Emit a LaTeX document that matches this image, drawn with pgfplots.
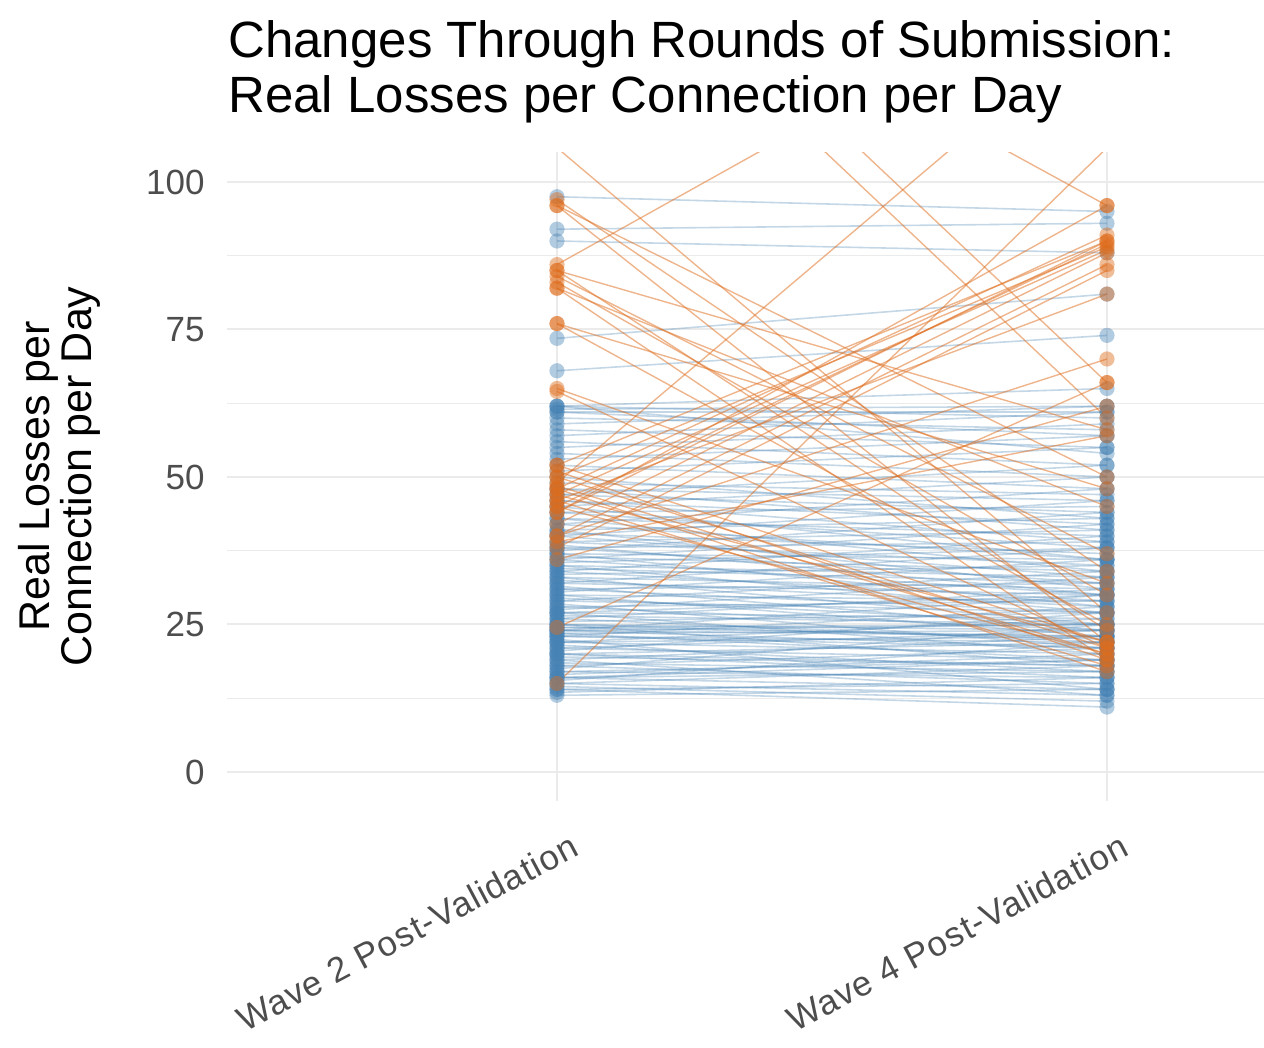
\documentclass[border=0pt]{standalone}
\usepackage{fontspec}
\setmainfont{Liberation Sans}
\newfontfamily\spacedfont[LetterSpace=3]{Liberation Sans}
\usepackage{pgfplots}
\usepackage{pgfplotstable}
\pgfplotsset{compat=1.18}
\definecolor{bluec}{RGB}{70,130,180}
\definecolor{orangec}{RGB}{222,108,28}
\definecolor{gridc}{RGB}{235,235,235}
\definecolor{tickc}{RGB}{77,77,77}

\pgfplotstableread{
w2 w4
13 14
13.5 16
14 11
14 15
15 13
15 18
15.5 22
16 17
16 14
16.5 20
17 16
17 19
17.5 25
18 15
18 21
18.5 17
19 23
19 13
19.5 18
20 16
20 22
20.5 27
21 19
21 24
21.5 17
22 20
22 26
22.5 14
23 22
23 28
23.5 19
24 21
24 25
24 30
24.5 23
25 24
25 18
25.5 27
26 22
26 31
26.5 25
27 20
27 26
27.5 33
28 24
28 29
28.5 21
29 27
29 34
29.5 25
30 23
30 29
30.5 36
31 27
31 32
31.5 24
32 30
32 38
32.5 28
33 25
33 31
33.5 35
34 29
34 40
34.5 32
35 27
35 33
35.5 38
36 30
36 42
36.5 34
37 28
37 36
37.5 44
38 32
38 39
38.5 30
39 35
39 41
40 33
40 46
40.5 37
41 31
41 43
42 36
42 48
43 34
43 40
44 38
44 45
45 36
45 50
46 42
46 39
47 44
47 52
48 41
48 46
49 47
50 43
51 55
52 48
53 57
54 50
55 59
56 52
57 61
58 55
59 62
60 58
61 61
61 57
61.5 62
62 60
62 65
62 54
68 74
73.5 81
90 88
92 93
97.5 95
23.5 24
24 23
24.5 25
25 22.5
22 23
23 21
14.5 12
16 19
20 18
27 30
}\bluedata

\pgfplotstableread{
w2 w4
105.8 27
97 34
96 50
96 22
85 58
85 24
84 37
83 30
82 45
82 19
76 25
76 48
65 32
64.5 21
52 22
51 19
50 21
48.5 20
48 17
47 22
46 18
45 20
148 60
154 66
147 96
86 138
49 128
15 105.8
52 90
50 89
48 91
47 88.5
45 89.5
44 90
42 88
40 86
38 85
46 81
44 96
40 70
24.5 66
36 62
39 57
}\orangedata

\begin{document}
\begin{tikzpicture}
\useasboundingbox (-113.5pt,-123.25pt) rectangle (518.5pt,400.75pt);
\begin{axis}[
  scale only axis,
  width=518.5pt, height=324.5pt,
  xmin=0.4, xmax=2.2855,
  ymin=-5, ymax=105,
  axis line style={draw=none},
  major tick length=0pt, minor tick length=0pt,
  xtick={1,2},
  xticklabels={Wave 2 Post-Validation, Wave 4 Post-Validation},
  ytick={0,25,50,75,100},
  minor ytick={12.5,37.5,62.5,87.5},
  xmajorgrids, ymajorgrids, yminorgrids,
  major grid style={color=gridc, line width=1pt},
  minor grid style={color=gridc, line width=0.6pt},
  /pgf/number format/assume math mode=true,
  yticklabel style={font=\fontsize{17.5pt}{20pt}\selectfont, text=tickc, anchor=east, inner sep=0pt, xshift=-11pt},
  xticklabel style={font=\spacedfont\fontsize{17.5pt}{20pt}\selectfont, text=tickc, inner sep=0pt, xshift=6pt, yshift=-15pt, rotate=28, anchor=north east},
  clip marker paths=true,
  blueline/.style={color=bluec, opacity=0.32, line width=0.8pt, forget plot},
  orangeline/.style={color=orangec, opacity=0.5, line width=0.7pt, forget plot},
  bluemark/.style={color=bluec, only marks, mark=*, mark size=3.8pt, mark options={draw=bluec, draw opacity=0, fill=bluec, fill opacity=0.42}},
  orangemark/.style={color=orangec, only marks, mark=*, mark size=3.8pt, mark options={draw=orangec, draw opacity=0, fill=orangec, fill opacity=0.45}},
]
\pgfplotstablegetrowsof{\bluedata}
\pgfmathtruncatemacro{\nb}{\pgfplotsretval-1}
\pgfplotsinvokeforeach{0,...,\nb}{%
  \pgfplotstablegetelem{#1}{w2}\of\bluedata \let\ya\pgfplotsretval
  \pgfplotstablegetelem{#1}{w4}\of\bluedata \let\yb\pgfplotsretval
  \edef\temp{\noexpand\addplot[blueline] coordinates {(1,\ya) (2,\yb)};}\temp
}
\pgfplotstablegetrowsof{\orangedata}
\pgfmathtruncatemacro{\no}{\pgfplotsretval-1}
\pgfplotsinvokeforeach{0,...,\no}{%
  \pgfplotstablegetelem{#1}{w2}\of\orangedata \let\ya\pgfplotsretval
  \pgfplotstablegetelem{#1}{w4}\of\orangedata \let\yb\pgfplotsretval
  \edef\temp{\noexpand\addplot[orangeline] coordinates {(1,\ya) (2,\yb)};}\temp
}
\addplot[bluemark] table[x expr=1, y=w2] {\bluedata};
\addplot[bluemark] table[x expr=2, y=w4] {\bluedata};
\addplot[orangemark] table[x expr=1, y=w2] {\orangedata};
\addplot[orangemark] table[x expr=2, y=w4] {\orangedata};
\end{axis}
\node[anchor=north west, inner sep=0pt, align=left, font=\fontsize{25.5pt}{27.5pt}\selectfont] at (0.5pt,390.5pt)
  {Changes Through Rounds of Submission:\\Real Losses per Connection per Day};
\node[rotate=90, anchor=north, inner sep=0pt, align=center, font=\fontsize{21.5pt}{19pt}\selectfont] at (-104.5pt,162.5pt)
  {Real Losses per\\Connection per Day};
\end{tikzpicture}
\end{document}
